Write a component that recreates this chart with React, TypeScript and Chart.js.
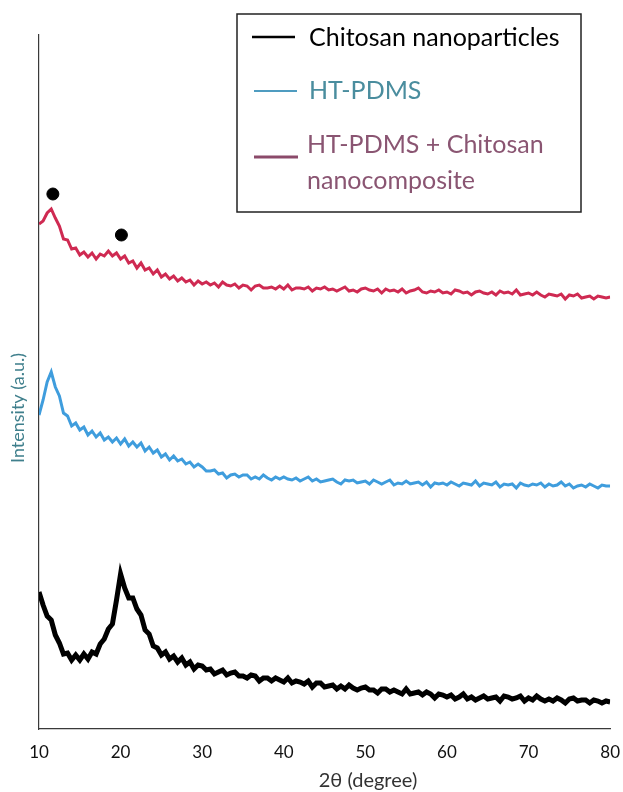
import React, { useEffect, useRef } from "react";
import { Chart, registerables } from "chart.js";

Chart.register(...registerables);

const twoTheta = [
  10, 10.5, 11, 11.5, 12, 12.5, 13, 13.5, 14, 14.5,
  15, 15.5, 16, 16.5, 17, 17.5, 18, 18.5, 19, 19.5,
  20, 20.5, 21, 21.5, 22, 22.5, 23, 23.5, 24, 24.5,
  25, 25.5, 26, 26.5, 27, 27.5, 28, 28.5, 29, 29.5,
  30, 30.5, 31, 31.5, 32, 32.5, 33, 33.5, 34, 34.5,
  35, 35.5, 36, 36.5, 37, 37.5, 38, 38.5, 39, 39.5,
  40, 40.5, 41, 41.5, 42, 42.5, 43, 43.5, 44, 44.5,
  45, 45.5, 46, 46.5, 47, 47.5, 48, 48.5, 49, 49.5,
  50, 50.5, 51, 51.5, 52, 52.5, 53, 53.5, 54, 54.5,
  55, 55.5, 56, 56.5, 57, 57.5, 58, 58.5, 59, 59.5,
  60, 60.5, 61, 61.5, 62, 62.5, 63, 63.5, 64, 64.5,
  65, 65.5, 66, 66.5, 67, 67.5, 68, 68.5, 69, 69.5,
  70, 70.5, 71, 71.5, 72, 72.5, 73, 73.5, 74, 74.5,
  75, 75.5, 76, 76.5, 77, 77.5, 78, 78.5, 79, 79.5,
  80,
];

const compositeIntensity = [
  505, 508, 516, 520, 511, 503, 490, 489, 480, 481,
  474, 477, 472, 476, 470, 475, 473, 478, 473, 476,
  470, 473, 466, 468, 461, 466, 459, 461, 455, 459,
  452, 455, 450, 453, 448, 451, 447, 449, 444, 448,
  445, 447, 444, 446, 442, 447, 444, 443, 445, 441,
  444, 443, 439, 443, 444, 441, 441, 442, 440, 443,
  440, 444, 439, 441, 441, 440, 442, 438, 441, 440,
  442, 439, 440, 438, 440, 442, 438, 439, 437, 440,
  441, 439, 438, 440, 436, 440, 438, 439, 437, 440,
  436, 438, 439, 441, 437, 436, 438, 437, 439, 436,
  437, 435, 439, 438, 436, 437, 434, 437, 438, 436,
  435, 437, 434, 438, 436, 437, 435, 439, 434, 435,
  436, 434, 437, 434, 432, 435, 434, 433, 435, 430,
  434, 433, 435, 431, 432, 433, 430, 433, 432, 431,
  432,
];

const pdmsIntensity = [
  314, 329, 347, 357, 342, 333, 316, 313, 303, 306,
  299, 302, 294, 298, 292, 296, 289, 292, 287, 291,
  285, 290, 283, 287, 282, 286, 278, 282, 276, 279,
  272, 275, 269, 273, 268, 270, 265, 267, 262, 265,
  262, 258, 258, 259, 255, 256, 251, 254, 255, 252,
  254, 254, 250, 252, 250, 254, 251, 249, 252, 250,
  252, 250, 249, 251, 248, 250, 252, 248, 250, 247,
  248, 249, 250, 247, 245, 249, 248, 249, 246, 247,
  248, 245, 249, 247, 245, 247, 249, 244, 246, 245,
  248, 245, 246, 247, 244, 247, 242, 246, 245, 246,
  244, 247, 245, 243, 246, 245, 244, 248, 243, 246,
  245, 244, 247, 242, 245, 244, 245, 241, 246, 244,
  243, 245, 244, 246, 242, 245, 243, 244, 247, 243,
  245, 241, 243, 244, 242, 245, 243, 241, 244, 243,
  243,
];

const chitosanIntensity = [
  137, 124, 113, 109, 94, 86, 75, 76, 69, 74,
  69, 75, 70, 77, 75, 85, 90, 100, 105, 129,
  155, 141, 131, 131, 120, 114, 99, 95, 83, 81,
  74, 77, 70, 73, 67, 71, 64, 67, 60, 64,
  63, 59, 60, 55, 57, 59, 54, 56, 57, 53,
  53, 51, 54, 53, 48, 51, 51, 48, 51, 49,
  47, 51, 46, 48, 47, 45, 48, 42, 46, 46,
  42, 43, 44, 40, 43, 40, 44, 41, 39, 41,
  42, 39, 39, 36, 40, 40, 37, 39, 37, 35,
  40, 35, 36, 37, 34, 37, 35, 31, 35, 34,
  32, 34, 30, 32, 35, 30, 32, 29, 31, 33,
  30, 31, 32, 28, 33, 32, 30, 31, 33, 28,
  31, 29, 33, 30, 28, 30, 28, 31, 29, 26,
  30, 31, 28, 29, 29, 26, 29, 28, 26, 28,
  27,
];

const markerTheta = [11.7, 20.1];
const markerIntensity = [535, 494];

const xTicks = [10, 20, 30, 40, 50, 60, 70, 80];

const seriesNames = [
  "Chitosan nanoparticles",
  "HT-PDMS",
  "HT-PDMS + Chitosan nanocomposite",
];

const FONT = "Lato, 'Liberation Sans', sans-serif";

function toPoints(xs: number[], ys: number[]) {
  return xs.map((x, i) => ({ x, y: ys[i] }));
}

const overlayPlugin = {
  id: "overlay",
  afterDraw(chart: any) {
    const ctx: CanvasRenderingContext2D = chart.ctx;
    ctx.save();
    // Axis titles
    ctx.fillStyle = "#333333";
    ctx.font = `20px ${FONT}`;
    ctx.textAlign = "center";
    ctx.textBaseline = "middle";
    ctx.fillText("2θ (degree)", 368, 781);

    ctx.save();
    ctx.translate(18, 408);
    ctx.rotate(-Math.PI / 2);
    ctx.fillStyle = "#3f7f8c";
    ctx.font = `18px ${FONT}`;
    ctx.fillText("Intensity (a.u.)", 0, 0);
    ctx.restore();

    // Legend box
    ctx.strokeStyle = "#222222";
    ctx.lineWidth = 1.5;
    ctx.strokeRect(237, 14, 344, 198);

    ctx.textAlign = "left";
    ctx.textBaseline = "middle";
    ctx.font = `25px ${FONT}`;

    // item 1
    ctx.strokeStyle = "#000000";
    ctx.lineWidth = 2.5;
    ctx.beginPath();
    ctx.moveTo(252, 37);
    ctx.lineTo(295, 37);
    ctx.stroke();
    ctx.fillStyle = "#000000";
    ctx.fillText(seriesNames[0], 309, 38);

    // item 2
    ctx.strokeStyle = "#4f9cc0";
    ctx.lineWidth = 2;
    ctx.beginPath();
    ctx.moveTo(254, 91);
    ctx.lineTo(297, 91);
    ctx.stroke();
    ctx.fillStyle = "#4a8d9e";
    ctx.fillText(seriesNames[1], 309, 91);

    // item 3
    ctx.strokeStyle = "#8b4a6a";
    ctx.lineWidth = 3;
    ctx.beginPath();
    ctx.moveTo(254, 157);
    ctx.lineTo(298, 157);
    ctx.stroke();
    ctx.fillStyle = "#8a5572";
    ctx.fillText("HT-PDMS + Chitosan", 307, 145);
    ctx.fillText("nanocomposite", 307, 181);

    ctx.restore();
  },
};

export default function App() {
  const ref = useRef<HTMLCanvasElement>(null);

  useEffect(() => {
    const canvas = ref.current;
    if (!canvas) return;
    const chart = new Chart(canvas, {
      type: "line",
      data: {
        datasets: [
          {
            type: "scatter",
            label: "markers",
            data: toPoints(markerTheta, markerIntensity),
            pointRadius: 6,
            pointBackgroundColor: "#000000",
            pointBorderColor: "#000000",
            showLine: false,
          } as any,
          {
            label: seriesNames[2],
            data: toPoints(twoTheta, compositeIntensity),
            borderColor: "#cf2a52",
            borderWidth: 3,
            pointRadius: 0,
            tension: 0,
            fill: false,
          },
          {
            label: seriesNames[1],
            data: toPoints(twoTheta, pdmsIntensity),
            borderColor: "#3f9ddd",
            borderWidth: 3,
            pointRadius: 0,
            tension: 0,
            fill: false,
          },
          {
            label: seriesNames[0],
            data: toPoints(twoTheta, chitosanIntensity),
            borderColor: "#000000",
            borderWidth: 5,
            pointRadius: 0,
            tension: 0,
            fill: false,
          },
        ],
      },
      options: {
        responsive: false,
        animation: false,
        devicePixelRatio: 1,
        layout: { padding: { top: 35, right: 0, left: 0, bottom: 0 } },
        plugins: {
          legend: { display: false },
          tooltip: { enabled: false },
          title: { display: false },
        },
        scales: {
          x: {
            type: "linear",
            min: 10,
            max: 80,
            afterBuildTicks: (scale: any) => {
              scale.ticks = xTicks.map((v) => ({ value: v }));
            },
            afterFit: (scale: any) => {
              scale.height = 63;
            },
            grid: { display: false, drawTicks: true, tickLength: 10 },
            border: { display: true, color: "#3a3a3a", width: 1.2 },
            ticks: {
              color: "#111111",
              font: { family: FONT, size: 17 },
              padding: 3,
              maxRotation: 0,
            },
          },
          y: {
            type: "linear",
            min: 0,
            max: 694,
            afterFit: (scale: any) => {
              scale.width = 39;
            },
            grid: { display: false, drawTicks: false },
            border: { display: true, color: "#3a3a3a", width: 1.2 },
            ticks: { display: false },
          },
        },
      },
      plugins: [overlayPlugin],
    });
    return () => chart.destroy();
  }, []);

  return (
    <div
      style={{
        position: "absolute",
        left: 0,
        top: 0,
        width: 623,
        height: 792,
        background: "#ffffff",
      }}
    >
      <canvas ref={ref} width={623} height={792} style={{ width: 623, height: 792 }} />
    </div>
  );
}
